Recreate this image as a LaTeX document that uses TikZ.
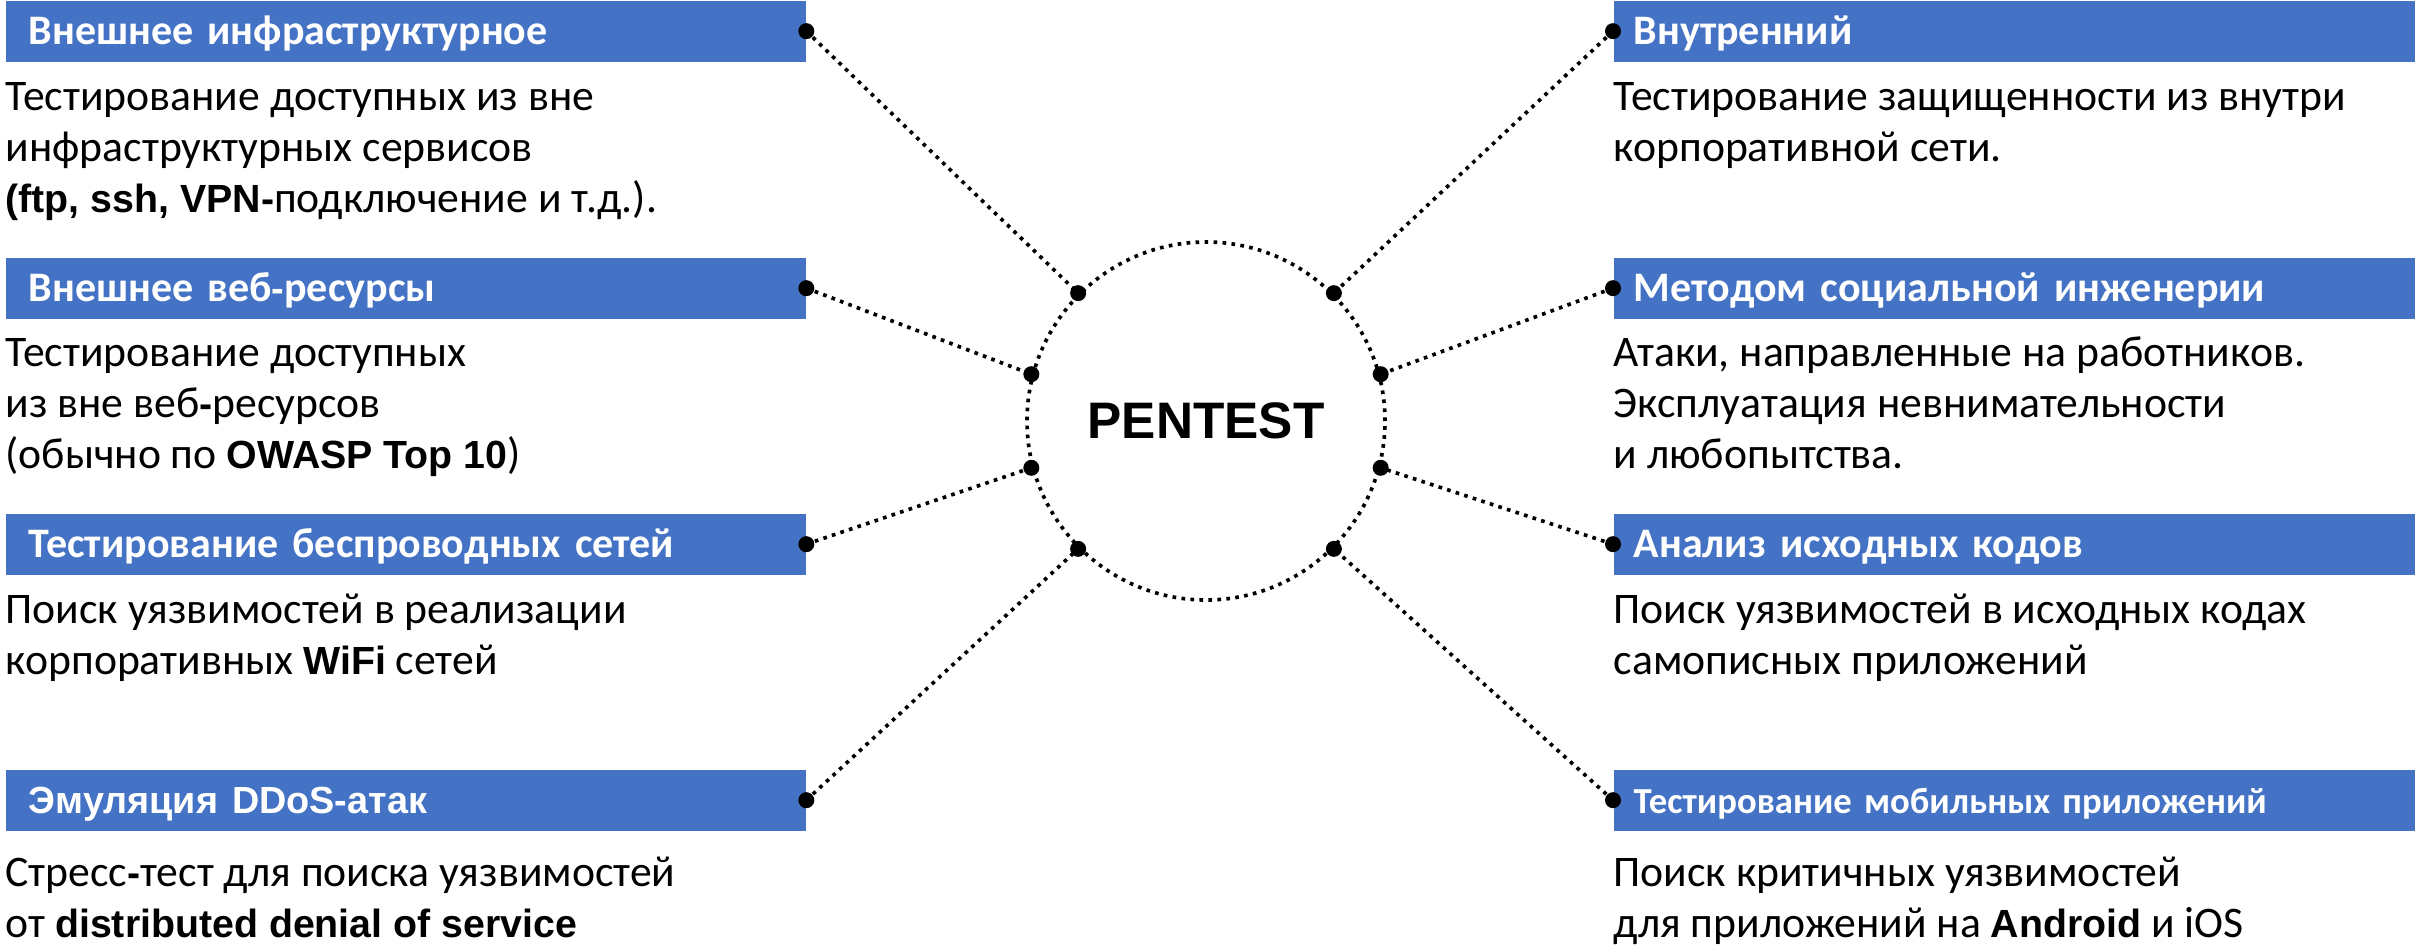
\documentclass[tikz,border=0pt]{standalone}
\usepackage{fontspec}
\setmainfont{Carlito}
\newfontfamily\latf[Scale=0.9]{Liberation Sans}
\newfontfamily\penf{Liberation Sans}
\definecolor{hdrblue}{HTML}{4472C4}
\begin{document}
\begin{tikzpicture}[x=0.3pt,y=-0.3pt,
  hdrL/.style={fill=hdrblue, text=white, anchor=north west, minimum width=240pt, minimum height=18.3pt,
    text width=226.2pt, inner xsep=6.9pt, inner ysep=0pt, text height=7.8pt, text depth=0pt, align=left,
    font=\fontsize{12.6}{14}\selectfont\bfseries},
  hdrR/.style={hdrL, minimum width=240.6pt, text width=228.6pt, inner xsep=6pt},
  desc/.style={anchor=north west, inner sep=0pt, align=left, font=\fontsize{13.1}{15.3}\selectfont},
  dotted line/.style={line width=1.1pt, dash pattern=on 1.1pt off 1.6pt},
  pin/.style={circle, fill=black, inner sep=0pt, minimum size=4.8pt}
]
\useasboundingbox (0,0) rectangle (2415,947);

% centre
\node[circle, draw, dotted line, minimum size=107.4pt, inner sep=0pt,
  font=\penf\fontsize{15.4}{18}\selectfont\bfseries] (c) at (1206,421) {PENTEST};

% left boxes
\node[hdrL] (L1) at (5,0) {Внешнее инфраструктурное};
\node[desc] (L1d) at (5,74) {\strut Тестирование доступных из вне\\ инфраструктурных сервисов\\ {\latf\bfseries (ftp, ssh, VPN-}подключение и т.д.).};

\node[hdrL] (L2) at (5,257) {Внешнее веб{\latf\bfseries -}ресурсы};
\node[desc] (L2d) at (5,330) {\strut Тестирование доступных\\ из вне веб{\latf\bfseries -}ресурсов\\ (обычно по {\latf\bfseries OWASP Top 10})};

\node[hdrL] (L3) at (5,513) {Тестирование беспроводных сетей};
\node[desc] (L3d) at (5,587) {\strut Поиск уязвимостей в реализации\\ корпоративных {\latf\bfseries WiFi} сетей};

\node[hdrL] (L4) at (5,769) {{\latf\bfseries Эмуляция DDoS-атак}};
\node[desc] (L4d) at (5,850) {\strut Стресс{\latf\bfseries -}тест для поиска уязвимостей\\ от {\latf\bfseries distributed denial of service}};

% right boxes
\node[hdrR] (R1) at (1613,0) {Внутренний};
\node[desc] (R1d) at (1613,74) {\strut Тестирование защищенности из внутри\\ корпоративной сети.};

\node[hdrR] (R2) at (1613,257) {Методом социальной инженерии};
\node[desc] (R2d) at (1613,330) {\strut Атаки, направленные на работников.\\ Эксплуатация невнимательности\\ и любопытства.};

\node[hdrR] (R3) at (1613,513) {Анализ исходных кодов};
\node[desc] (R3d) at (1613,587) {\strut Поиск уязвимостей в исходных кодах\\ самописных приложений};

\node[hdrR, font=\fontsize{11.0}{13}\selectfont\bfseries] (R4) at (1613,769) {Тестирование мобильных приложений};
\node[desc] (R4d) at (1613,850) {\strut Поиск критичных уязвимостей\\ для приложений на {\latf\bfseries Android} и iOS};

% pins on the circle
\node[pin] (cL1) at (c.135) {};
\node[pin] (cL2) at (c.165) {};
\node[pin] (cL3) at (c.195) {};
\node[pin] (cL4) at (c.225) {};
\node[pin] (cR1) at (c.45) {};
\node[pin] (cR2) at (c.15) {};
\node[pin] (cR3) at (c.-15) {};
\node[pin] (cR4) at (c.-45) {};

% pins on the boxes
\node[pin] (pL1) at (L1.east) {};
\node[pin] (pL2) at (L2.east) {};
\node[pin] (pL3) at (L3.east) {};
\node[pin] (pL4) at (L4.east) {};
\node[pin] (pR1) at (R1.west) {};
\node[pin] (pR2) at (R2.west) {};
\node[pin] (pR3) at (R3.west) {};
\node[pin] (pR4) at (R4.west) {};

% connectors
\foreach \s in {L1,L2,L3,L4,R1,R2,R3,R4}{
  \draw[dotted line] (p\s.center) -- (c\s.center);
}
\end{tikzpicture}
\end{document}
